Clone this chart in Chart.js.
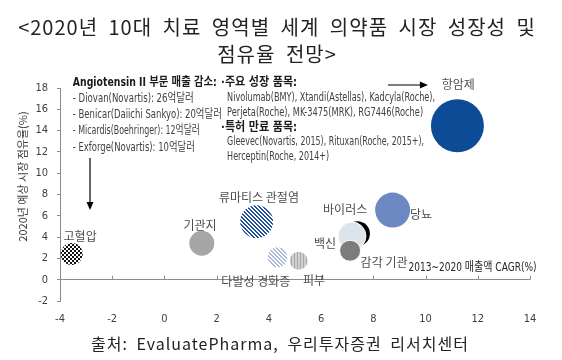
<!DOCTYPE html>
<html><head><meta charset="utf-8">
<script src="https://cdn.jsdelivr.net/npm/chart.js@4/dist/chart.umd.min.js"></script>
<style>html,body{margin:0;padding:0;background:#fff}canvas{display:block}</style>
</head><body>
<canvas id="c" width="562" height="360"></canvas>
<script>
// ---------- data ----------
const titleLines = ['<2020년 10대 치료 영역별 세계 의약품 시장 성장성 및', '점유율 전망>'];
const sourceText = '출처: EvaluatePharma, 우리투자증권 리서치센터';
const xAxisTitle = '2013~2020 매출액 CAGR(%)';
const yAxisTitle = '2020년 예상 시장 점유율(%)';
const areas = ['고혈압', '기관지', '류마티스 관절염', '다발성 경화증', '피부', '바이러스', '백신', '감각 기관', '당뇨', '항암제'];
const cagr  = [-3.55, 1.43, 3.53, 4.33, 5.14, 7.39, 7.18, 7.11, 8.74, 11.22];
const share = [2.41, 3.42, 5.45, 2.10, 1.78, 4.32, 4.10, 2.72, 6.54, 14.46];
const bubbleSize = [11, 12.5, 16.5, 10, 9, 12.5, 14, 10.5, 17.5, 26.5];
const labelX = [-3.23, 1.36, 3.62, 3.50, 5.73, 6.92, 6.15, 8.41, 9.83, 11.25];
const labelY = [4.10, 5.10, 7.75, -0.12, -0.03, 6.60, 3.45, 1.66, 6.15, 18.30];
const xTickValues = [-4, -2, 0, 2, 4, 6, 8, 10, 12, 14];
const yTickValues = [-2, 0, 2, 4, 6, 8, 10, 12, 14, 16, 18];
const leftNoteLines = ['Angiotensin II 부문 매출 감소:', '- Diovan(Novartis): 26억달러', '- Benicar(Daiichi Sankyo): 20억달러', '- Micardis(Boehringer): 12억달러', '- Exforge(Novartis): 10억달러'];
const rightNoteLines = ['·주요 성장 품목:', 'Nivolumab(BMY), Xtandi(Astellas), Kadcyla(Roche),', 'Perjeta(Roche), MK-3475(MRK), RG7446(Roche)', '·특허 만료 품목:', 'Gleevec(Novartis, 2015), Rituxan(Roche, 2015+),', 'Herceptin(Roche, 2014+)'];
const leftNoteAnchor = [-3.51, 18.5];
const rightNoteAnchor = [2.17, 18.5];
const downArrow = [[-2.85, 11.43], [-2.85, 6.54]];
const rightArrow = [[8.56, 18.28], [10.09, 18.28]];

// ---------- styles ----------
function patternCanvas(size, bg, fg, test) {
  const c = document.createElement('canvas');
  c.width = size; c.height = size;
  const g = c.getContext('2d');
  g.fillStyle = bg; g.fillRect(0, 0, size, size);
  g.fillStyle = fg;
  for (let y = 0; y < size; y++) for (let x = 0; x < size; x++) if (test(x, y)) g.fillRect(x, y, 1, 1);
  return c;
}
const ctx0 = document.getElementById('c').getContext('2d');
const checker = ctx0.createPattern(patternCanvas(4, '#ffffff', '#111111', (x, y) => ((x >> 1) + (y >> 1)) % 2 === 0), 'repeat');
const hatchDark = ctx0.createPattern(patternCanvas(4, '#ffffff', '#1f4f97', (x, y) => ((x - y + 8) % 4) < 2), 'repeat');
const hatchLight = ctx0.createPattern(patternCanvas(4, '#ffffff', '#a9b9d9', (x, y) => ((x - y + 8) % 4) < 2), 'repeat');
const vStripe = ctx0.createPattern(patternCanvas(3, '#d0d0d0', '#a8a8a8', (x, y) => x === 0), 'repeat');
const bubbleFill = [checker, '#a6a6a6', hatchDark, hatchLight, vStripe, '#000000', '#dde4ec', '#7c7c7c', '#6d89c3', '#0e4b97'];
const bubbleBorderW = [0, 0, 0, 0, 0, 0, 1, 1, 0, 0];
const KR = '"Noto Sans CJK KR", sans-serif';
const NARROW = '"Liberation Sans Narrow", "Arial Narrow", "DejaVu Sans Condensed", "Liberation Sans", "Noto Sans CJK KR", sans-serif';
const leftNoteWidths = [144, 121, 149, 127, 122];
const rightNoteWidths = [76, 208, 196, 76, 197, 102];

const annot = {
  id: 'annot',
  afterDatasetsDraw(chart) {
    const c = chart.ctx, xs = chart.scales.x, ys = chart.scales.y;
    c.save();
    // ticks on the zero line
    const y0 = ys.getPixelForValue(0);
    c.strokeStyle = '#8c8c8c'; c.lineWidth = 1;
    xTickValues.forEach(v => {
      const px = Math.round(xs.getPixelForValue(v)) + 0.5;
      c.beginPath(); c.moveTo(px, y0); c.lineTo(px, y0 - 4); c.stroke();
    });
    // bubble labels
    c.font = '12px ' + KR; c.fillStyle = '#4d4d4d'; c.textAlign = 'center'; c.textBaseline = 'middle';
    areas.forEach((a, i) => c.fillText(a, xs.getPixelForValue(labelX[i]), ys.getPixelForValue(labelY[i])));
    // x axis title
    c.font = '12px ' + NARROW; c.fillStyle = '#262626'; c.textAlign = 'right';
    c.fillText(xAxisTitle, xs.getPixelForValue(14.25), ys.getPixelForValue(1.15), 128);
    // notes
    c.textAlign = 'left';
    const lx = xs.getPixelForValue(leftNoteAnchor[0]), ly = ys.getPixelForValue(leftNoteAnchor[1]);
    leftNoteLines.forEach((t, i) => {
      c.font = (i === 0 ? 'bold ' : '') + '12px ' + NARROW;
      c.fillStyle = i === 0 ? '#1a1a1a' : '#404040';
      c.fillText(t, lx, ly + i * 16.2, leftNoteWidths[i]);
    });
    const rx = xs.getPixelForValue(rightNoteAnchor[0]), ry = ys.getPixelForValue(rightNoteAnchor[1]);
    rightNoteLines.forEach((t, i) => {
      const head = t.startsWith('·');
      c.font = (head ? 'bold 12.5px ' : '12px ') + NARROW;
      c.fillStyle = head ? '#1a1a1a' : '#404040';
      c.fillText(t, rx + (head ? 0 : 6), ry + i * 14.9, rightNoteWidths[i]);
    });
    // arrows
    c.strokeStyle = '#000'; c.fillStyle = '#000'; c.lineWidth = 1.2;
    const dx = xs.getPixelForValue(downArrow[0][0]);
    const d1 = ys.getPixelForValue(downArrow[0][1]), d2 = ys.getPixelForValue(downArrow[1][1]);
    c.beginPath(); c.moveTo(dx, d1); c.lineTo(dx, d2 - 7); c.stroke();
    c.beginPath(); c.moveTo(dx - 3.5, d2 - 8); c.lineTo(dx + 3.5, d2 - 8); c.lineTo(dx, d2); c.closePath(); c.fill();
    const ry2 = ys.getPixelForValue(rightArrow[0][1]);
    const r1 = xs.getPixelForValue(rightArrow[0][0]), r2 = xs.getPixelForValue(rightArrow[1][0]);
    c.beginPath(); c.moveTo(r1, ry2); c.lineTo(r2 - 7, ry2); c.stroke();
    c.beginPath(); c.moveTo(r2 - 8, ry2 - 3.5); c.lineTo(r2 - 8, ry2 + 3.5); c.lineTo(r2, ry2); c.closePath(); c.fill();
    // y axis title
    c.save();
    c.translate(23, (chart.chartArea.top + chart.chartArea.bottom) / 2 - 18);
    c.rotate(-Math.PI / 2);
    c.font = '11px ' + KR; c.fillStyle = '#404040'; c.textAlign = 'center';
    c.fillText(yAxisTitle, 0, 0);
    c.restore();
    // title & source
    c.fillStyle = '#222'; c.textAlign = 'center';
    c.font = '20px ' + KR;
    try { c.letterSpacing = '1px'; c.wordSpacing = '5px'; } catch (e) {}
    titleLines.forEach((t, i) => c.fillText(t, 277, 27 + i * 27));
    c.font = '16px ' + KR;
    try { c.letterSpacing = '1px'; c.wordSpacing = '4px'; } catch (e) {}
    c.fillText(sourceText, 280, 344);
    c.restore();
  }
};

new Chart(document.getElementById('c'), {
  type: 'bubble',
  data: {
    datasets: [{
      data: cagr.map((x, i) => ({ x, y: share[i], r: bubbleSize[i] })),
      backgroundColor: bubbleFill,
      borderColor: '#ffffff',
      borderWidth: bubbleBorderW,
      clip: false
    }]
  },
  options: {
    responsive: false,
    animation: false,
    events: [],
    layout: { padding: { left: 0, right: 32, top: 88, bottom: 29 } },
    plugins: { legend: { display: false }, tooltip: { enabled: false } },
    scales: {
      x: {
        type: 'linear', min: -4, max: 14,
        afterBuildTicks: s => { s.ticks = xTickValues.map(v => ({ value: v })); },
        afterFit: s => { s.height = 30; },
        border: { display: false },
        grid: { display: false, drawTicks: false },
        ticks: { padding: 12, color: '#404040', font: { family: NARROW, size: 11 } }
      },
      y: {
        type: 'linear', min: -2, max: 18,
        afterBuildTicks: s => { s.ticks = yTickValues.map(v => ({ value: v })); },
        afterFit: s => { s.width = 60; },
        border: { display: true, color: '#8c8c8c' },
        grid: {
          color: c => (c.tick && c.tick.value === 0 ? '#8c8c8c' : 'rgba(0,0,0,0)'),
          tickColor: '#8c8c8c', tickLength: 3
        },
        ticks: { padding: 9, color: '#404040', font: { family: NARROW, size: 11 } }
      }
    }
  },
  plugins: [annot]
});
</script>
</body></html>
